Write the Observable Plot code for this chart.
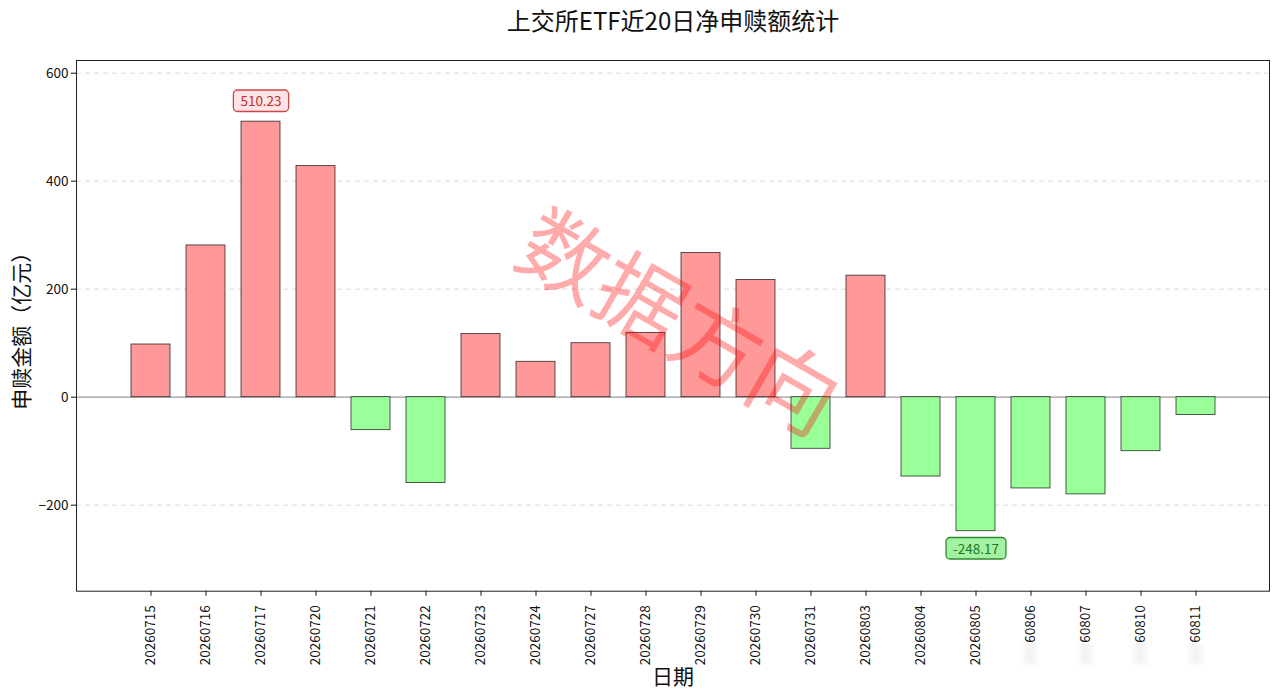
<!DOCTYPE html>
<html>
<head>
<meta charset="utf-8">
<script src="https://cdn.jsdelivr.net/npm/d3@7"></script>
<script src="https://cdn.jsdelivr.net/npm/@observablehq/plot@0.6"></script>
<style>
  html, body { margin: 0; padding: 0; background: #fff; }
  #chart { position: relative; width: 1280px; height: 696px; }
  #chart svg { font-family: "Noto Sans CJK SC", "Liberation Sans", sans-serif; }
  #wb { position: absolute; left: 1015px; top: 642px; width: 242px; height: 40px;
        background: rgba(255,255,255,0.8); backdrop-filter: blur(3px); }
</style>
</head>
<body>
<div id="chart"></div>
<script>
const title = "上交所ETF近20日净申赎额统计";
const yLabel = "申赎金额（亿元）";
const xLabel = "日期";
const watermark = "数据方向";
const dates = ["20260715","20260716","20260717","20260720","20260721","20260722","20260723","20260724","20260727","20260728",
               "20260729","20260730","20260731","20260803","20260804","20260805","20260806","20260807","20260810","20260811"];
const values = [97.6, 281, 510.23, 428, -61, -159, 117, 65.5, 100, 119,
                267, 217, -95.6, 225, -147, -248.17, -169, -180, -100, -33];
const yTicks = [-200, 0, 200, 400, 600];

const data = dates.map((d, i) => ({date: d, value: values[i]}));
const maxD = data.reduce((a, b) => (b.value > a.value ? b : a));
const minD = data.reduce((a, b) => (b.value < a.value ? b : a));
const fmt = v => v.toFixed(2);

const chart = Plot.plot({
  width: 1280,
  height: 696,
  marginLeft: 76,
  marginRight: 11,
  marginTop: 60,
  marginBottom: 105.3,
  x: {type: "band", domain: dates, paddingInner: 0.3, paddingOuter: 0.985, align: 0.5},
  y: {domain: [-359.3, 623.5]},
  color: {type: "identity"},
  marks: [
    Plot.gridY(yTicks.filter(t => t !== 0), {stroke: "#cfcfcf", strokeOpacity: 1, strokeWidth: 0.8, strokeDasharray: "5,4"}),
    Plot.ruleY([0], {stroke: "#999", strokeWidth: 1.3}),
    Plot.barY(data, {x: "date", y: "value",
      fill: d => d.value >= 0 ? "#ff9999" : "#99ff99",
      stroke: "#000", strokeOpacity: 0.72, strokeWidth: 0.9}),
    Plot.axisY({ticks: yTicks, tickSize: 5, tickPadding: 3, fontSize: 13.5, label: null, color: "#111"}),
    Plot.axisX({tickRotate: -90, tickSize: 5, tickPadding: 9, fontSize: 13.5, label: null, color: "#111"}),
    Plot.frame({stroke: "#222", strokeWidth: 1}),
    Plot.text([maxD], {x: "date", y: "value", text: d => fmt(d.value), dy: -20, lineAnchor: "middle",
      fill: "#c03030", fontSize: 13.5}),
    Plot.text([minD], {x: "date", y: "value", text: d => fmt(d.value), dy: 18, lineAnchor: "middle",
      fill: "#1e7a1e", fontSize: 13.5}),
    Plot.text([watermark], {frameAnchor: "middle", rotate: 30, dx: 4, fontSize: 88,
      fill: "red", fillOpacity: 0.33}),
    Plot.text([title], {frameAnchor: "top", dy: -38, lineAnchor: "middle", fontSize: 24, fill: "#111"}),
    Plot.text([yLabel], {frameAnchor: "left", dx: -54, rotate: -90, textAnchor: "middle", lineAnchor: "middle", fontSize: 21, fill: "#111"}),
    Plot.text([xLabel], {frameAnchor: "bottom", dy: 86, lineAnchor: "middle", fontSize: 21, fill: "#111"})
  ]
});
const host = document.getElementById("chart");
host.appendChild(chart);
const wb = document.createElement("div");
wb.id = "wb";
host.appendChild(wb);

function box(label, fill, stroke) {
  chart.querySelectorAll("text").forEach(t => {
    if (t.textContent !== label) return;
    const bb = t.getBBox();
    const r = document.createElementNS("http://www.w3.org/2000/svg", "rect");
    r.setAttribute("x", bb.x - 7);
    r.setAttribute("y", bb.y);
    r.setAttribute("width", bb.width + 14);
    r.setAttribute("height", bb.height + 1.5);
    r.setAttribute("rx", 4);
    r.setAttribute("fill", fill);
    r.setAttribute("stroke", stroke);
    r.setAttribute("stroke-width", 1.3);
    const tr = t.getAttribute("transform");
    if (tr) r.setAttribute("transform", tr);
    t.parentNode.insertBefore(r, t);
  });
}
box(fmt(maxD.value), "#ffe3e5", "#c94848");
box(fmt(minD.value), "#a3f2a3", "#2f8a2f");
</script>
</body>
</html>
